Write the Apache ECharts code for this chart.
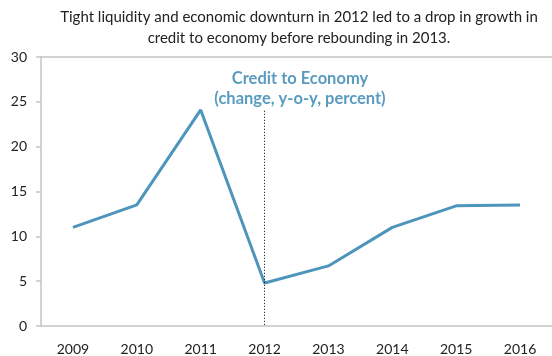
<!DOCTYPE html>
<html>
<head>
<meta charset="utf-8">
<script src="https://cdn.jsdelivr.net/npm/echarts@6/dist/echarts.min.js"></script>
<style>
  html, body { margin: 0; padding: 0; background: #fff; }
  #chart { width: 552px; height: 356px; }
</style>
</head>
<body>
<div id="chart"></div>
<script>
// Credit to economy, annual change (y-o-y, percent)
const years = ['2009', '2010', '2011', '2012', '2013', '2014', '2015', '2016'];
const creditGrowth = [11.0, 13.5, 24.1, 4.8, 6.7, 11.0, 13.4, 13.5];
const yTicks = [0, 5, 10, 15, 20, 25, 30];
const breakYear = '2012';
const breakLineTop = 24.0;

const titleLines = [
  'Tight liquidity and economic downturn in 2012 led to a drop in growth in',
  'credit to economy before rebounding in 2013.'
];
const seriesLabel = ['Credit to Economy', '(change, y-o-y, percent)'];

const FONT = 'Lato, "Open Sans", sans-serif';
const LINE_BLUE = '#4d95bb';
const AXIS_GREY = '#c4c4c4';

const chart = echarts.init(document.getElementById('chart'), null, { renderer: 'canvas' });

chart.setOption({
  animation: false,
  backgroundColor: '#ffffff',
  grid: { left: 41, top: 57, width: 512, height: 269, containLabel: false },
  xAxis: [
    {
      type: 'category',
      data: years,
      boundaryGap: true,
      axisLine: { lineStyle: { color: AXIS_GREY, width: 1.5 } },
      axisTick: { inside: true, length: 5, lineStyle: { color: AXIS_GREY, width: 1.5 } },
      axisLabel: { color: '#222', fontFamily: FONT, fontSize: 14, margin: 16 },
      splitLine: { show: false }
    },
    {
      type: 'category',
      data: years,
      position: 'top',
      boundaryGap: true,
      axisLine: { lineStyle: { color: AXIS_GREY, width: 1.5 } },
      axisTick: { inside: true, length: 5, lineStyle: { color: AXIS_GREY, width: 1.5 } },
      axisLabel: { show: false },
      splitLine: { show: false }
    }
  ],
  yAxis: {
    type: 'value',
    min: yTicks[0],
    max: yTicks[yTicks.length - 1],
    interval: yTicks[1] - yTicks[0],
    axisLine: { show: true, lineStyle: { color: AXIS_GREY, width: 1.5 } },
    axisTick: { show: true, inside: false, length: 5, lineStyle: { color: AXIS_GREY, width: 1.5 } },
    axisLabel: { color: '#222', fontFamily: FONT, fontSize: 14, margin: 14 },
    splitLine: { show: false }
  },
  series: [
    {
      type: 'line',
      data: creditGrowth,
      xAxisIndex: 0,
      symbol: 'none',
      lineStyle: { color: LINE_BLUE, width: 3 },
      z: 3,
      markLine: {
        silent: true,
        symbol: 'none',
        label: { show: false },
        lineStyle: { color: '#000', type: [1, 2], width: 1 },
        data: [[
          { coord: [breakYear, breakLineTop] },
          { coord: [breakYear, yTicks[0]] }
        ]]
      }
    }
  ],
  graphic: [
    {
      type: 'text', x: 299, y: 17,
      style: { text: titleLines[0], fill: '#222', font: '15px ' + FONT, textAlign: 'center', textVerticalAlign: 'middle' }
    },
    {
      type: 'text', x: 299, y: 38,
      style: { text: titleLines[1], fill: '#222', font: '15px ' + FONT, textAlign: 'center', textVerticalAlign: 'middle' }
    },
    {
      type: 'text', x: 300, y: 79,
      style: { text: seriesLabel[0], fill: '#5a9bc0', font: 'bold 16.5px ' + FONT, textAlign: 'center', textVerticalAlign: 'middle' }
    },
    {
      type: 'text', x: 300, y: 99,
      style: { text: seriesLabel[1], fill: '#5a9bc0', font: 'bold 16.5px ' + FONT, textAlign: 'center', textVerticalAlign: 'middle' }
    }
  ]
});
</script>
</body>
</html>
